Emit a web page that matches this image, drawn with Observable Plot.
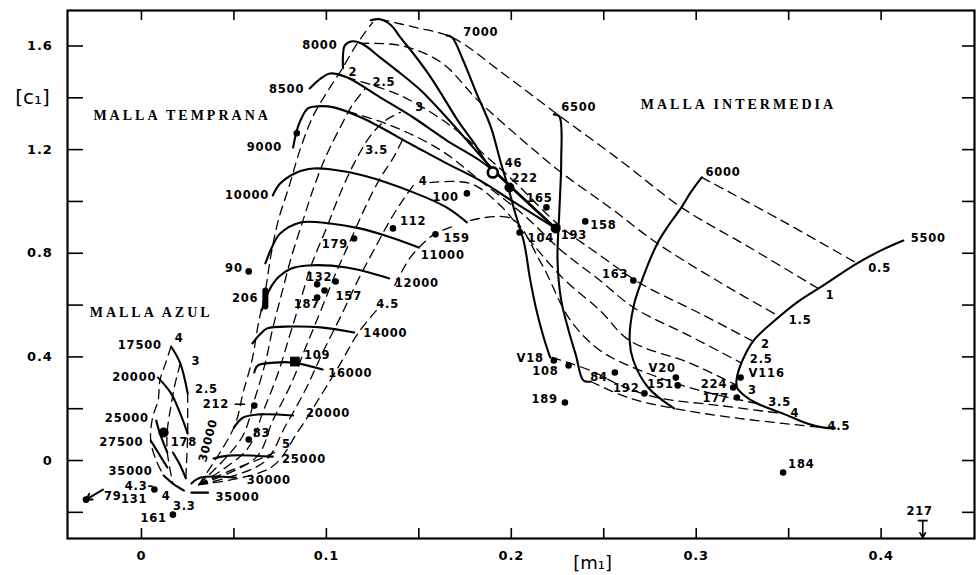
<!DOCTYPE html>
<html>
<head>
<meta charset="utf-8">
<script src="https://cdn.jsdelivr.net/npm/d3@7"></script>
<script src="https://cdn.jsdelivr.net/npm/@observablehq/plot@0.6"></script>
<style>
  body { margin: 0; background: #fff; }
</style>
</head>
<body>
<script>
// ---- Axis ticks and tick labels ----
const xTicks = [0, 0.05, 0.1, 0.15, 0.2, 0.25, 0.3, 0.35, 0.4];
const yTicks = [-0.2, 0, 0.2, 0.4, 0.6, 0.8, 1.0, 1.2, 1.4, 1.6];
const xTickLabels = [0, 0.1, 0.2, 0.3, 0.4];
const yTickLabels = [0, 0.4, 0.8, 1.2, 1.6];

// ---- Early grid (MALLA TEMPRANA): isotherms, [m1, c1] ----
const t7500 = [[0.124,1.699],[0.129,1.703],[0.135,1.680],[0.140,1.633],[0.147,1.571],[0.155,1.494],[0.162,1.417],[0.171,1.313],[0.180,1.224],[0.187,1.147],[0.200,1.054],[0.224,0.896]];
const t8000 = [[0.109,1.514],[0.109,1.564],[0.110,1.602],[0.114,1.618],[0.120,1.606],[0.129,1.556],[0.138,1.506],[0.151,1.429],[0.165,1.324],[0.176,1.236],[0.187,1.147],[0.202,1.042],[0.224,0.896]];
const t8500 = [[0.091,1.436],[0.097,1.475],[0.102,1.494],[0.111,1.479],[0.129,1.402],[0.147,1.324],[0.165,1.236],[0.183,1.158],[0.190,1.120],[0.205,1.023],[0.224,0.896]];
const t9000 = [[0.082,1.208],[0.084,1.274],[0.086,1.313],[0.090,1.359],[0.095,1.367],[0.104,1.363],[0.120,1.320],[0.147,1.216],[0.165,1.147],[0.183,1.081],[0.200,1.004],[0.224,0.896]];
const t10000 = [[0.071,1.023],[0.075,1.069],[0.084,1.112],[0.093,1.127],[0.102,1.124],[0.120,1.100],[0.147,1.035],[0.165,0.977],[0.176,0.919]];
const t11000 = [[0.067,0.761],[0.071,0.830],[0.075,0.876],[0.086,0.919],[0.102,0.915],[0.118,0.896],[0.135,0.861],[0.150,0.822]];
const t12000 = [[0.065,0.579],[0.069,0.656],[0.074,0.707],[0.081,0.741],[0.090,0.753],[0.111,0.745],[0.134,0.703]];
const t14000 = [[0.060,0.452],[0.064,0.486],[0.068,0.510],[0.081,0.517],[0.097,0.514],[0.115,0.494]];
const t16000 = [[0.061,0.340],[0.063,0.367],[0.072,0.378],[0.082,0.378],[0.098,0.351]];
const t20000 = [[0.050,0.127],[0.055,0.166],[0.064,0.178],[0.082,0.174]];
const t25000 = [[0.039,0.008],[0.047,0.019],[0.071,0.015]];
const t30000 = [[0.027,-0.089],[0.032,-0.066],[0.051,-0.066]];
const t35000 = [[0.027,-0.124],[0.036,-0.124]];

// ---- Early grid: constant log g (dashed) ----
const e20 = [[0.031,-0.093],[0.050,0.127],[0.055,0.263],[0.060,0.394],[0.063,0.521],[0.067,0.656],[0.070,0.792],[0.074,0.927],[0.080,1.062],[0.086,1.205],[0.093,1.332],[0.101,1.429],[0.108,1.506],[0.116,1.602],[0.125,1.691]];
const e25 = [[0.031,-0.093],[0.054,0.085],[0.061,0.232],[0.067,0.378],[0.071,0.510],[0.076,0.649],[0.081,0.784],[0.087,0.919],[0.093,1.050],[0.100,1.178],[0.108,1.293],[0.114,1.371],[0.121,1.436]];
const e30 = [[0.031,-0.093],[0.057,0.042],[0.066,0.193],[0.074,0.340],[0.080,0.479],[0.086,0.618],[0.092,0.757],[0.100,0.896],[0.107,1.023],[0.115,1.147],[0.124,1.255],[0.132,1.313],[0.140,1.344]];
const e35 = [[0.031,-0.093],[0.062,0.012],[0.071,0.154],[0.081,0.297],[0.089,0.440],[0.097,0.579],[0.105,0.722],[0.113,0.849],[0.121,0.977],[0.129,1.089],[0.136,1.166],[0.141,1.236]];
const e40 = [[0.031,-0.093],[0.066,-0.008],[0.078,0.135],[0.089,0.278],[0.098,0.417],[0.108,0.560],[0.117,0.695],[0.127,0.830],[0.135,0.934],[0.142,1.012],[0.147,1.062]];
const e45a = [[0.031,-0.093],[0.070,-0.027],[0.085,0.116],[0.096,0.239],[0.107,0.367],[0.117,0.490],[0.127,0.579]];
const e45b = [[0.137,0.676],[0.145,0.780],[0.154,0.849],[0.159,0.876],[0.168,0.903]];
const e50 = [[0.031,-0.093],[0.048,-0.039],[0.062,0.000],[0.072,0.031]];

// ---- Intermediate grid (MALLA INTERMEDIA): isotherms ----
const t7000 = [[0.165,1.641],[0.168,1.633],[0.174,1.544],[0.181,1.421],[0.189,1.286],[0.194,1.158],[0.198,1.062],[0.202,0.958],[0.207,0.838],[0.210,0.707],[0.214,0.568],[0.218,0.463],[0.221,0.398]];
const t6500 = [[0.223,1.336],[0.226,1.328],[0.227,1.158],[0.226,0.965],[0.225,0.772],[0.227,0.618],[0.231,0.502],[0.235,0.405],[0.239,0.309],[0.243,0.305]];
const t6000 = [[0.303,1.093],[0.297,1.035],[0.292,0.977],[0.285,0.907],[0.279,0.838],[0.270,0.683],[0.266,0.591],[0.264,0.463],[0.266,0.386],[0.274,0.282],[0.288,0.201]];
const t5500 = [[0.412,0.849],[0.400,0.811],[0.387,0.761],[0.367,0.668],[0.356,0.618],[0.345,0.556],[0.331,0.463],[0.325,0.386],[0.322,0.320],[0.322,0.282],[0.326,0.251],[0.333,0.220],[0.347,0.181],[0.360,0.143],[0.369,0.127],[0.375,0.124]];

// ---- Intermediate grid: constant log g (dashed) ----
const g05 = [[0.303,1.093],[0.346,0.927],[0.387,0.761]];
const g10 = [[0.129,1.703],[0.148,1.672],[0.168,1.633],[0.197,1.486],[0.225,1.336],[0.259,1.158],[0.292,0.977],[0.329,0.822],[0.366,0.664]];
const g15 = [[0.118,1.610],[0.140,1.602],[0.162,1.537],[0.182,1.390],[0.205,1.243],[0.227,1.112],[0.254,0.973],[0.279,0.838],[0.313,0.687],[0.345,0.556]];
const g20 = [[0.111,1.479],[0.140,1.409],[0.167,1.293],[0.189,1.158],[0.201,1.081],[0.226,0.907],[0.248,0.792],[0.270,0.683],[0.302,0.568],[0.330,0.463]];
const g25 = [[0.104,1.363],[0.135,1.293],[0.162,1.197],[0.183,1.081],[0.207,0.946],[0.227,0.811],[0.248,0.695],[0.266,0.591],[0.297,0.479],[0.324,0.378]];
const g30 = [[0.156,1.073],[0.178,1.069],[0.194,0.985],[0.210,0.849],[0.228,0.703],[0.248,0.579],[0.264,0.463],[0.297,0.375],[0.322,0.290]];
const g35 = [[0.178,0.927],[0.200,0.934],[0.216,0.764],[0.232,0.541],[0.248,0.425],[0.270,0.347],[0.302,0.270],[0.333,0.220]];
const g40 = [[0.222,0.398],[0.243,0.347],[0.259,0.290],[0.279,0.243],[0.313,0.212],[0.347,0.181]];
const g45 = [[0.243,0.305],[0.263,0.243],[0.288,0.201],[0.324,0.162],[0.369,0.127]];

// ---- Blue grid (MALLA AZUL) ----
const b17500 = [[0.016,0.440],[0.021,0.375],[0.025,0.259]];
const b20000 = [[0.009,0.320],[0.016,0.259],[0.021,0.181],[0.025,0.104]];
const b25000 = [[0.008,0.154],[0.010,0.104],[0.014,0.031]];
const b27500 = [[0.005,0.077],[0.009,0.031],[0.014,-0.027]];
const b30000 = [[0.017,0.031],[0.021,-0.019],[0.024,-0.069]];
const b35000 = [[0.012,-0.058],[0.017,-0.089],[0.023,-0.116]];
const bg40 = [[0.016,0.440],[0.013,0.375],[0.010,0.309],[0.009,0.232],[0.006,0.166],[0.005,0.077],[0.008,0.000],[0.012,-0.058]];
const bg30 = [[0.021,0.375],[0.018,0.290],[0.016,0.212],[0.014,0.116],[0.014,0.031],[0.017,-0.089]];
const bg25 = [[0.025,0.259],[0.025,0.185],[0.025,0.104],[0.024,-0.069]];

// ---- Observed stars ----
const starIds = ["46","222","100","165","193","104","158","163","159","112","179","90","206","132","157","187","109","212","83","178","131","161","79","V18","108","84","189","192","V20","151","224","V116","177","184","217"];
const starM1 = [0.190,0.199,0.176,0.219,0.224,0.2045,0.240,0.266,0.159,0.136,0.115,0.058,0.067,0.095,0.099,0.095,0.083,0.061,0.058,0.012,0.007,0.017,-0.030,0.223,0.231,0.256,0.229,0.272,0.289,0.290,0.320,0.324,0.322,0.347,0.4225];
const starC1 = [1.112,1.054,1.031,0.977,0.896,0.880,0.923,0.695,0.873,0.896,0.857,0.730,0.625,0.680,0.656,0.629,0.382,0.212,0.081,0.108,-0.112,-0.209,-0.151,0.386,0.367,0.340,0.224,0.259,0.320,0.290,0.282,0.320,0.243,-0.046,-0.232];
// unlabeled stars
const extraM1 = [0.105, 0.084];
const extraC1 = [0.691, 1.263];

// ---- Grid annotations ----
const endLabelText = ["8000","8500","9000","10000","17500","20000","25000","27500","35000"];
const endLabelM1 = [0.106,0.088,0.076,0.069,0.011,0.008,0.004,0.001,0.006];
const endLabelC1 = [1.602,1.432,1.208,1.023,0.444,0.320,0.162,0.069,-0.043];
const startLabelText = ["11000","12000","14000","16000","20000","25000","30000","35000","5","2","2.5","3","3.5","4","4.5",
  "7000","6500","6000","5500","0.5","1","1.5","2","2.5","3","3.5","4","4.5",
  "4","3","2.5","4.3\u2013","4","3.3"];
const startLabelM1 = [0.151,0.137,0.120,0.101,0.089,0.076,0.057,0.040,0.076,0.112,0.125,0.148,0.121,0.150,0.127,
  0.174,0.227,0.305,0.416,0.393,0.370,0.350,0.335,0.329,0.328,0.339,0.351,0.371,
  0.018,0.027,0.029,-0.009,0.011,0.017];
const startLabelC1 = [0.792,0.683,0.490,0.336,0.181,0.004,-0.077,-0.143,0.064,1.498,1.459,1.363,1.197,1.077,0.602,
  1.653,1.363,1.112,0.857,0.741,0.637,0.541,0.448,0.392,0.272,0.226,0.181,0.131,
  0.471,0.382,0.274,-0.101,-0.139,-0.176];
const rotatedLabel = {text: "30000", m1: 0.036, c1: 0.077};
const regionNames = ["MALLA TEMPRANA", "MALLA INTERMEDIA", "MALLA AZUL"];
const regionM1 = [-0.026, 0.270, -0.028];
const regionC1 = [1.332, 1.375, 0.571];

// ---- Layout ----
const W = 978, H = 575, mL = 67, mR = 4, mT = 10, mB = 37;
const xDom = [-0.040, 0.4505], yDom = [-0.301, 1.737];
const kx = (W - mL - mR) / (xDom[1] - xDom[0]);
const ky = (H - mT - mB) / (yDom[1] - yDom[0]);

const solidCurves = [t7500, t8000, t8500, t9000, t10000, t11000, t12000, t14000, t16000, t20000, t25000, t30000, t35000,
  t7000, t6500, t6000, t5500, b17500, b20000, b25000, b27500, b30000, b35000];
const dashedCurves = [e20, e25, e30, e35, e40, e45a, e45b, e50, g05, g10, g15, g20, g25, g30, g35, g40, g45, bg40, bg30, bg25];

// label placement for each star: [dx, dy, anchor]
const starLabelPos = {
  "46":[12,-9,"start"], "222":[2,-9,"start"], "100":[-8,4,"end"], "165":[-7,-9,"middle"], "193":[5,7,"start"],
  "104":[8,6,"start"], "158":[5,4,"start"], "163":[-5,-6,"end"], "159":[8,4,"start"], "112":[7,-7,"start"],
  "179":[-6,6,"end"], "90":[-6,-3,"end"], "206":[-7,0,"end"], "132":[2,-7,"middle"], "157":[11,6,"start"],
  "187":[3,7,"end"], "109":[9,-6,"start"], "212":[-8,-1,"end"], "83":[4,-6,"start"], "178":[7,10,"start"],
  "131":[-7,10,"end"], "161":[-6,4,"end"], "79":[18,-3,"start"], "V18":[-10,-2,"end"], "108":[-10,6,"end"],
  "84":[-7,5,"end"], "189":[-7,-3,"end"], "192":[-5,-5,"end"], "V20":[0,-9,"end"], "151":[-4,-1,"end"],
  "224":[-6,-3,"end"], "V116":[8,-4,"start"], "177":[-8,1,"end"], "184":[5,-8,"start"], "217":[-3,-9,"middle"]
};
const idx = id => starIds.indexOf(id);
const specialIds = ["46","109","217","79","193","178","222","206"];
const plainStars = d3.range(starIds.length).filter(i => !specialIds.includes(starIds[i]));
const big = ["193","178","222"].map(idx);

const font = "DejaVu Sans, sans-serif";
const X = i => starM1[i], Y = i => starC1[i];

const marks = [
  Plot.frame({strokeWidth: 2.2}),
  // inward ticks on all four sides
  Plot.ruleX(xTicks, {x: d => d, y1: () => yDom[0], y2: () => yDom[0] + 10 / ky, strokeWidth: 1.6}),
  Plot.ruleX(xTicks, {x: d => d, y1: () => yDom[1], y2: () => yDom[1] - 10 / ky, strokeWidth: 1.6}),
  Plot.ruleY(yTicks, {y: d => d, x1: () => xDom[0], x2: () => xDom[0] + 16 / kx, strokeWidth: 1.6}),
  Plot.ruleY(yTicks, {y: d => d, x1: () => xDom[1], x2: () => xDom[1] - 12 / kx, strokeWidth: 1.6}),
  Plot.text(xTickLabels, {x: d => d, y: () => yDom[0], dy: 17, text: d => d === 0 ? "0" : String(d),
    fontSize: 13, fontWeight: "bold", fontFamily: font}),
  Plot.text(yTickLabels, {x: () => xDom[0], y: d => d, dx: -15, textAnchor: "end", text: d => d === 0 ? "0" : d.toFixed(1),
    fontSize: 13, fontWeight: "bold", fontFamily: font}),
  Plot.text(["[m\u2081]"], {x: () => 0.244, y: () => yDom[0], dy: 25, fontSize: 18, fontFamily: font}),
  Plot.text(["[c\u2081]"], {x: () => xDom[0], y: () => 1.402, dx: -35, fontSize: 20, fontFamily: font}),
  // grid curves
  ...dashedCurves.map(c => Plot.line(c, {x: d => d[0], y: d => d[1], curve: "catmull-rom", strokeWidth: 1.3, strokeDasharray: "9,6"})),
  ...solidCurves.map(c => Plot.line(c, {x: d => d[0], y: d => d[1], curve: "catmull-rom", strokeWidth: 2.1})),
  // grid annotations
  Plot.text(d3.range(endLabelText.length), {x: i => endLabelM1[i], y: i => endLabelC1[i], text: i => endLabelText[i],
    textAnchor: "end", fontSize: 11.5, fontWeight: "bold", fontFamily: font}),
  Plot.text(d3.range(startLabelText.length), {x: i => startLabelM1[i], y: i => startLabelC1[i], text: i => startLabelText[i],
    textAnchor: "start", fontSize: 11.5, fontWeight: "bold", fontFamily: font}),
  Plot.text([rotatedLabel], {x: "m1", y: "c1", text: "text", rotate: -75, fontSize: 11.5, fontWeight: "bold", fontFamily: font}),
  Plot.text(d3.range(regionNames.length), {x: i => regionM1[i], y: i => regionC1[i], text: i => regionNames[i],
    textAnchor: "start", fontSize: 14, fontWeight: "bold", fontFamily: "Liberation Serif, serif"}),
  // stars
  Plot.dot(plainStars, {x: X, y: Y, r: 3.3, fill: "black"}),
  Plot.dot(d3.range(extraM1.length), {x: i => extraM1[i], y: i => extraC1[i], r: 3.3, fill: "black"}),
  Plot.dot(big, {x: X, y: Y, r: 5, fill: "black"}),
  // 206 is drawn as an elongated blob
  Plot.link([idx("206")], {x1: X, x2: X, y1: i => Y(i) + 8 / ky, y2: i => Y(i) - 8 / ky, strokeWidth: 6, strokeLinecap: "round"}),
  Plot.dot([idx("46")], {x: X, y: Y, r: 5, fill: "white", stroke: "black", strokeWidth: 2.6}),
  Plot.dot([idx("109")], {x: X, y: Y, r: 5.5, symbol: "square", fill: "black"}),
  Plot.dot([idx("79")], {x: X, y: Y, r: 3.3, fill: "black"}),
  Plot.arrow([idx("79")], {x1: i => X(i) + 17 / kx, y1: i => Y(i) + 10 / ky, x2: X, y2: Y, strokeWidth: 2, headLength: 7}),
  Plot.arrow([idx("217")], {x1: X, y1: Y, x2: X, y2: i => Y(i) - 17 / ky, strokeWidth: 1.6, headLength: 6}),
  Plot.link([idx("217")], {x1: i => X(i) - 5 / kx, x2: i => X(i) + 5 / kx, y1: Y, y2: Y, strokeWidth: 1.8}),
  ...starIds.map((id, i) => Plot.text([i], {x: X, y: Y, text: () => id === "212" ? "212 \u2014" : id,
    dx: starLabelPos[id][0], dy: starLabelPos[id][1], textAnchor: starLabelPos[id][2],
    fontSize: 11.5, fontWeight: "bold", fontFamily: font}))
];

const chart = Plot.plot({
  width: W, height: H,
  marginLeft: mL, marginRight: mR, marginTop: mT, marginBottom: mB,
  x: {domain: xDom, axis: null},
  y: {domain: yDom, axis: null},
  style: {background: "white", color: "black", overflow: "visible"},
  marks
});
document.body.appendChild(chart);

// letter spacing: wide region titles, slightly spaced numerals
d3.select(chart).selectAll("text").each(function () {
  const t = this.textContent;
  if (regionNames.includes(t)) this.setAttribute("letter-spacing", "3px");
  else if (!t.startsWith("[")) this.setAttribute("letter-spacing", "0.8px");
});
</script>
</body>
</html>
